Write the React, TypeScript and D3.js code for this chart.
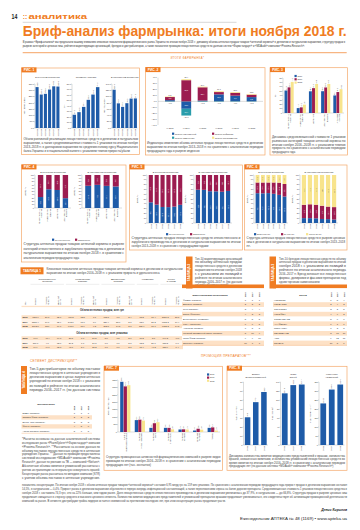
import React from 'react';
import * as d3 from 'd3';

const ORANGE = '#f07c22';
const BORDER = '#f4a86a';
const PEACH = '#fde1c6';
const PEACH2 = '#fff3e8';
const BLUE = '#1e5ba8';
const CRIMSON = '#9c1c50';
const YELLOW = '#f8e48c';
const TEAL = '#2a9dab';
const INK = '#333';
const SANS = "'Liberation Sans', Arial, sans-serif";

// ---------------- DATA ----------------
const fig1Years = ['11.2013', '11.2014', '11.2015', '11.2016', '11.2017', '11.2018'];
const fig1Titles = ['В денежном выражении', 'Стоимость упаковки', 'В натуральном выражении'];
const fig1YLabels = ['Млн долл. США', 'Грн', 'Млн упаковок'];
const fig1Money = [325.4, 266.2, 271.8, 305.9, 331.6, 329.8];
const fig1Price = [24.1, 28.8, 38.4, 51.2, 60.8, 74.3];
const fig1Units = [121.8, 78.4, 67.2, 78.9, 93.6, 94.1];
const fig1Max = [350, 80, 140];
const fig1Step = [50, 10, 20];

const fig2Years = ['XI 2013', 'XI 2014', 'XI 2015', 'XI 2016', 'XI 2017', 'XI 2018'];
const fig2Natural = [2.1, -12.6, 1.4, 11.8, 9.6, 7.2];
const fig2Inflation = [5.2, 35.8, 22.4, 3.9, 4.8, 4.1];
const fig2Substitution = [-0.6, -11.4, -0.8, -0.7, -0.6, -0.5];
const fig2Other = [0.9, 1.6, 1.1, 1.4, 1.3, 1.2];
const fig2Legend = ['Индекс натуральный', 'Индекс инфляции', 'Индекс замещения', 'Индекс ассортимента'];
const fig2Ticks = [-40, -30, -20, -10, 0, 10, 20, 30, 40];

const fig3Cats = ['Лекарственные|средства', 'Медицинские|изделия', 'Косметика', 'Диетические|добавки', 'Аптечная|корзина'];
const fig3Years = ['2016', '2017', '2018'];
const fig3S2016 = [51.4, 11.2, 49.6, 49.8, 40.1];
const fig3S2017 = [58.6, 12.9, 56.8, 58.4, 47.9];
const fig3S2018 = [71.2, 19.1, 66.4, 66.3, 54.5];

const fig4Cats = ['Лекарственные|средства', 'Медицинские|изделия', 'Косметика', 'Диетические|добавки'];
const fig4MoneyDom = [33.2, 56.8, 54.6, 29.7];
const fig4UnitsDom = [67.4, 70.2, 67.1, 65.3];
const domLegend = ['Отечественные', 'Зарубежные'];

const fig5Years = ['2013', '2014', '2015', '2016', '2017', '2018'];
const fig5MoneyDom = [43.1, 38.2, 33.4, 33.1, 34.2, 37.9];
const fig5UnitsDom = [69.4, 69.1, 66.2, 66.0, 65.1, 66.8];

const fig6MoneyHigh = [62.1, 61.8, 62.3, 60.9, 58.6, 55.2];
const fig6MoneyMid = [22.3, 22.6, 22.1, 23.5, 25.4, 26.1];
const fig6UnitsHigh = [10.2, 10.1, 9.8, 8.4, 8.1, 7.2];
const fig6UnitsMid = [27.8, 28.9, 28.3, 27.6, 26.1, 25.9];
const fig6Legend = ['Более 100 грн', '50–100 грн', 'Менее 50 грн'];
const subTitles = ['В денежном выражении', 'В натуральном выражении'];

const t1Groups = ['Лекарственные|средства', 'Медицинские|изделия', 'Диетические|добавки', 'Косметика', 'Рынок|в целом'];
const t1Spans = [3, 3, 3, 2, 2];
const t1Cols3 = ['Объем', 'Прирост/|убыль, %', 'Удельный|вес, %'];
const t1Cols2 = ['Объем', 'Прирост/|убыль, %'];
const t1Years = ['2016', '2017', '2018'];
const t1Sections = ['Объем аптечных продаж, млн грн', 'Объем аптечных продаж, млн упаковок'];
const t1Money = [
  ['4360,9', '29,8', '85,6', '486,3', '13,5', '7,1', '175,1', '7,1', '3,4', '65,2', '18,4', '5087,5', '26,1'],
  ['5216,4', '19,6', '85,9', '542,8', '11,6', '8,9', '229,4', '31,0', '3,8', '83,6', '28,2', '6072,2', '19,4'],
  ['5893,0', '13,0', '84,7', '645,6', '18,9', '9,3', '262,7', '14,5', '3,8', '151,9', '81,7', '6953,2', '14,5'],
];
const t1Units = [
  ['96,7', '−3,4', '64,8', '36,5', '8,7', '24,5', '5,6', '1,5', '3,7', '10,2', '5,8', '149,3', '−0,6'],
  ['100,6', '4,0', '63,6', '39,3', '7,7', '24,8', '6,0', '7,1', '3,8', '12,3', '20,6', '158,2', '6,0'],
  ['99,9', '−0,7', '62,8', '41,6', '5,9', '26,2', '6,0', '0,0', '3,8', '11,4', '−7,3', '158,9', '0,4'],
];

const rankYears = ['2018', '2017', '2016'];
const t2Names = ['Фармак (Украина)', 'Дарница (Украина)', 'Teva (Израиль)', 'Sanofi (Франция)', 'Berlin-Chemie (Германия)', 'KRKA (Словения)', 'Артериум (Украина)', 'Киевский витаминный завод (Украина)', 'Юрия-Фарм (Украина)', 'Здоровье (Украина)'];
const t2R2018 = [1, 2, 3, 4, 5, 6, 7, 8, 9, 10];
const t2R2017 = [1, 2, 4, 3, 5, 6, 8, 10, 9, 7];
const t2R2016 = [1, 2, 4, 3, 5, 5, 8, 9, 10, 7];
const t3Names = ['НИМЕСИЛ', 'КОРВАЛОЛ', 'СИНУПРЕТ', 'НУРОФЕН', 'ЭССЕНЦИАЛЕ', 'АНАФЕРОН', 'ЦИТРАМОН', 'РЕКИЦЕН РД', 'АЦЦ', 'ЛИНЕКС'];
const t3R2018 = [1, 2, 3, 4, 5, 6, 7, 8, 9, 10];
const t3R2017 = [5, 4, 2, 9, 6, 1, 3, 17, 12, 8];
const t3R2016 = [4, 3, 5, 2, 7, 1, 8, 16, 11, 6];
const t4Names = ['БаДМ (Украина)', 'Оптима-Фарм (Украина)', 'Вента. Лтд (Украина)', 'Фра-М (Украина)', 'Альба Украина (Украина)'];
const t4R2018 = [1, 2, 3, 4, 5];
const t4R2017 = [1, 2, 3, 5, 7];
const t4R2016 = [1, 2, 3, 6, 8];

const fig7Cats = ['Визиты|медпредставителей', 'Реклама|в спец. изданиях', 'Реклама|на ТВ', 'Реклама|в интернете', 'Реклама|на радио', 'Наружная|реклама', 'Прочие'];
const fig7S2016 = [3380, 800, 280, 280, 170, 100, 280];
const fig7S2017 = [3070, 830, 590, 280, 180, 220, 310];
const fig7S2018 = [3150, 770, 660, 180, 170, 160, 100];

const fig8Years = ['2016', '2017', '2018'];
const fig8Titles = ['Визиты|медпредставителей', 'Охват|врачей', 'Количество|упоминаний'];
const fig8YLabels = ['Тыс. визитов', 'Тыс. врачей', 'Тыс. упоминаний'];
const fig8Visits = [30.8, 47.6, 58.9];
const fig8Doctors = [114.8, 133.1, 134.4];
const fig8Mentions = [231.0, 308.0, 336.0];
const fig8Max = [70, 140, 350];
const fig8Step = [10, 20, 50];

// ---------------- TEXTS ----------------
const titleText = 'Бриф-анализ фармрынка: итоги ноября 2018 г.';
const introText = 'В рамках «Бриф-анализа» мы предлагаем вашему вниманию ключевые показатели фармацевтического рынка Украины по итогам ноября 2018 г.: динамику объема аптечных продаж товаров «аптечной корзины» в денежном и натуральном выражении, структуру продаж в разрезе категорий и ценовых ниш, рейтинги маркетирующих организаций, брендов и дистрибьюторов, а также показатели промоции лекарственных средств по данным систем «Фармстандарт» и «MDAudit» компании «Proxima Research».';
const fig1Caption = 'Объем розничной реализации лекарственных средств в денежном и натуральном выражении, а также средневзвешенная стоимость 1 упаковки по итогам ноября 2013–2018 гг. в долларовом выражении по среднемесячному курсу Национального банка Украины и в национальной валюте с указанием темпов прироста/убыли';
const fig2Caption = 'Индикаторы изменения объема аптечных продаж лекарственных средств в денежном выражении по итогам ноября 2013–2018 гг. по сравнению с аналогичным периодом предыдущего года в разрезе индексов';
const fig3Caption = 'Динамика средневзвешенной стоимости 1 упаковки различных категорий товаров аптечной корзины по итогам ноября 2016–2018 гг. с указанием темпов прироста по сравнению с аналогичным периодом предыдущего года';
const fig4Caption = 'Структура аптечных продаж товаров аптечной корзины в разрезе категорий отечественного и зарубежного производства в денежном и натуральном выражении по итогам ноября 2018 г. в сравнении с аналогичным периодом предыдущего года';
const fig5Caption = 'Структура аптечных продаж лекарственных средств отечественного и зарубежного производства в денежном и натуральном выражении по итогам ноября 2013–2018 гг. в сравнении с предыдущими годами';
const fig6Caption = 'Структура аптечных продаж лекарственных средств в разрезе ценовых ниш в денежном и натуральном выражении по итогам ноября 2013–2018 гг.';
const t1Caption = 'Ключевые показатели аптечных продаж товаров аптечной корзины в денежном и натуральном выражении по итогам ноября 2016–2018 гг. с указанием прироста и удельного веса';
const t2Caption = 'Топ-10 маркетирующих организаций по объему аптечных продаж лекарственных средств в денежном выражении по итогам ноября 2018 г. с указанием их позиций в рейтинге по итогам аналогичного периода 2016–2017 гг. (по данным системы «Фармстандарт»)';
const t3Caption = 'Топ-10 брендов лекарственных средств по объему аптечных продаж в денежном выражении по итогам ноября 2018 г. с указанием их позиций в рейтинге по итогам аналогичного периода 2016–2017 гг. Бренд включает все лекарственные формы, дозировки и фасовки препаратов под одним торговым наименованием';
const t4Caption = 'Топ-5 дистрибьюторов по объему поставок лекарственных средств в аптечные учреждения в денежном выражении в ценах закупки аптечных учреждений по итогам ноября 2018 г. с указанием их позиций в рейтинге по итогам аналогичного периода 2016–2017 гг. (по данным системы «Фармстандарт»)';
const fig7Caption = 'Структура промоционных активностей фармацевтических компаний в разрезе видов промоции по итогам ноября 2016–2018 гг. в сравнении с аналогичным периодом предыдущих лет (тыс. контактов)';
const fig8Caption = 'Динамика количества визитов медицинских представителей к врачам, количества врачей, охваченных визитами, и количества упоминаний лекарственных средств во время визитов по итогам ноября 2016–2018 гг. в сравнении с аналогичным периодом предыдущих лет (по данным системы «MDAudit» компании «Proxima Research»)';
const footText = '*Расчеты основаны на данных аналитической системы исследования рынка «PharmXplorer»/«Фармстандарт» компании «Proxima Research». **Рассчитано на основе данных по объему поставок лекарственных средств в аптечные учреждения Украины. ***Данные по промоции предоставлены системой исследования «MDAudit» компании «Proxima Research», данные по рекламе на ТВ — компанией «Nielsen». Абсолютные объемы визитов и упоминаний рассчитаны с учетом экстраполяции на генеральную совокупность врачей. Концентрация рынка рассчитана по методике компании (STR) с учетом объема поставок в аптечные учреждения. Абсолютный';
const bottomText = 'показатель концентрации. По итогам ноября 2018 г. объем аптечных продаж товаров «аптечной корзины» составил 6,95 млрд грн за 159 млн упаковок. По сравнению с аналогичным периодом предыдущего года прирост продаж в денежном выражении составил 14,5%, в натуральном — 0,4%. Прирост рынка в денежном выражении обусловлен в первую очередь инфляционной составляющей, а также переключением спроса на более дорогие препараты. Средневзвешенная стоимость 1 упаковки лекарственного средства в ноябре 2018 г. составила 74,3 грн, что на 22% больше, чем годом ранее. Доля лекарственных средств отечественного производства в денежном выражении увеличилась до 37,9%, в натуральном — до 66,8%. Структура продаж в разрезе ценовых ниш продолжает смещаться в сторону среднего и высокого ценового сегмента. Количество визитов медицинских представителей и упоминаний препаратов врачами продолжает увеличиваться, что свидетельствует об активизации промоционной деятельности компаний на рынке. В сегменте дистрибуции тройка лидеров остается неизменной на протяжении последних лет, при этом концентрация рынка продолжает расти.';

// ---------------- HELPERS ----------------
const fmt1 = (v: number) => d3.format('.1f')(v).replace('.', ',').replace('-', '−');
const fmt0 = (v: number) => d3.format('d')(v);

function Para({ x, y, w, text, n, size = 2.9, lh = 4, color = '#444' }: any) {
  const cpl = w / (size * 0.5);
  const words = text.split(' ');
  const lines: string[] = [];
  let cur = '';
  for (const wd of words) {
    const cand = cur ? cur + ' ' + wd : wd;
    if (cand.length > cpl && cur) { lines.push(cur); cur = wd; } else cur = cand;
  }
  if (cur) lines.push(cur);
  const shown = lines.slice(0, n);
  return (
    <g>
      {shown.map((l, i) => {
        const isLast = i === lines.length - 1;
        const tl = isLast ? Math.min(w, l.length * size * 0.5) : w;
        return (
          <text key={i} x={x} y={y + i * lh} fontSize={size} fill={color} fontFamily={SANS} textLength={tl} lengthAdjust="spacingAndGlyphs">{l}</text>
        );
      })}
    </g>
  );
}

function RotLabel({ x, y, text, size = 2.1, anchor = 'end', color = INK, weight = 'normal' }: any) {
  const lines = String(text).split('|');
  const l = size * 1.05;
  return (
    <g>
      {lines.map((ln: string, i: number) => (
        <text key={i} transform={`translate(${x + (i - (lines.length - 1) / 2) * l + size * 0.35},${y}) rotate(-90)`} fontSize={size} textAnchor={anchor} fill={color} fontFamily={SANS} fontWeight={weight}>{ln}</text>
      ))}
    </g>
  );
}

function Panel({ x, y, w, h, label }: any) {
  return (
    <g>
      <rect x={x} y={y} width={w} height={h} fill="#fff" stroke={BORDER} strokeWidth={0.7} />
      <rect x={x} y={y - 0.6} width={15} height={5} fill={ORANGE} />
      <text x={x + 7.5} y={y + 3.1} fontSize={3.3} fontWeight="bold" fill="#fff" textAnchor="middle" fontFamily={SANS}>{label}</text>
    </g>
  );
}

function MultiText({ x, y, text, size = 2.2, anchor = 'middle', color = INK, weight = 'normal', lh }: any) {
  const lines = String(text).split('|');
  const l = lh ?? size * 1.15;
  return (
    <g>
      {lines.map((ln: string, i: number) => (
        <text key={i} x={x} y={y + i * l} fontSize={size} textAnchor={anchor} fill={color} fontFamily={SANS} fontWeight={weight}>{ln}</text>
      ))}
    </g>
  );
}

function YAxis({ x0, x1, top, bottom, y, ticks, tickFmt, ylabel, ylx, size = 2.1 }: any) {
  return (
    <g>
      <line x1={x0} x2={x0} y1={top} y2={bottom} stroke="#777" strokeWidth={0.25} />
      <line x1={x0} x2={x1} y1={bottom} y2={bottom} stroke="#777" strokeWidth={0.25} />
      {ticks.map((t: number) => (
        <g key={t}>
          <line x1={x0 - 0.8} x2={x0} y1={y(t)} y2={y(t)} stroke="#777" strokeWidth={0.25} />
          <text x={x0 - 1.1} y={y(t) + size * 0.35} fontSize={size} textAnchor="end" fill={INK} fontFamily={SANS}>{tickFmt(t)}</text>
        </g>
      ))}
      {ylabel && (
        <text transform={`translate(${ylx},${(top + bottom) / 2}) rotate(-90)`} fontSize={2.3} textAnchor="middle" fill={INK} fontFamily={SANS}>{ylabel}</text>
      )}
    </g>
  );
}

function GroupBars({ x0, x1, top, bottom, cats, series, colors, max, step, tickFmt, valFmt, pad = 0.3, ylabel, ylx, valSize = 1.9, xlSize = 2.1 }: any) {
  const x = d3.scaleBand().domain(cats).range([x0, x1]).paddingInner(pad).paddingOuter(pad / 2);
  const sub = d3.scaleBand().domain(d3.range(series.length) as any).range([0, x.bandwidth()]).paddingInner(0.06);
  const y = d3.scaleLinear().domain([0, max]).range([bottom, top]);
  const ticks = d3.range(0, max + step / 2, step);
  return (
    <g>
      <YAxis x0={x0} x1={x1} top={top} bottom={bottom} y={y} ticks={ticks} tickFmt={tickFmt} ylabel={ylabel} ylx={ylx} />
      {cats.map((c: string, ci: number) => (
        <g key={c}>
          {series.map((s: number[], si: number) => {
            const bx = (x(c) as number) + (sub(si as any) as number);
            const bw = sub.bandwidth();
            const v = s[ci];
            return (
              <g key={si}>
                <rect x={bx} y={y(v)} width={bw} height={bottom - y(v)} fill={colors[si]} />
                <RotLabel x={bx + bw / 2} y={y(v) - 0.7} text={valFmt(v)} size={valSize} anchor="start" />
              </g>
            );
          })}
          <RotLabel x={(x(c) as number) + x.bandwidth() / 2} y={bottom + 1.1} text={c} size={xlSize} anchor="end" />
        </g>
      ))}
    </g>
  );
}

function StackBars({ x0, x1, top, bottom, cats, series, colors, pad = 0.35, title, ylabel, ylx, xlSize = 2.1, labelColors }: any) {
  const keys = series.map((_: any, k: number) => 'k' + k);
  const rows = cats.map((c: string, i: number) => {
    const o: any = { c };
    series.forEach((s: number[], k: number) => { o['k' + k] = s[i]; });
    return o;
  });
  const st = d3.stack().keys(keys)(rows);
  const x = d3.scaleBand().domain(cats).range([x0, x1]).padding(pad);
  const y = d3.scaleLinear().domain([0, 100]).range([bottom, top]);
  const ticks = d3.range(0, 101, 10);
  return (
    <g>
      <text x={(x0 + x1) / 2} y={top - 2.4} fontSize={2.3} textAnchor="middle" fill={INK} fontFamily={SANS}>{title}</text>
      <YAxis x0={x0} x1={x1} top={top} bottom={bottom} y={y} ticks={ticks} tickFmt={(t: number) => String(t)} ylabel={ylabel} ylx={ylx} size={1.9} />
      {st.map((layer: any, k: number) => (
        <g key={k}>
          {layer.map((d: any, i: number) => {
            const bx = x(cats[i]) as number;
            const bw = x.bandwidth();
            const y0 = y(d[1]);
            const h = y(d[0]) - y(d[1]);
            const v = d[1] - d[0];
            return (
              <g key={i}>
                <rect x={bx} y={y0} width={bw} height={h} fill={colors[k]} />
                {h > 5 && (
                  <RotLabel x={bx + bw / 2} y={y0 + h / 2} text={fmt1(v)} size={1.7} anchor="middle" color={labelColors ? labelColors[k] : '#fff'} />
                )}
              </g>
            );
          })}
        </g>
      ))}
      {cats.map((c: string) => (
        <RotLabel key={c} x={(x(c) as number) + x.bandwidth() / 2} y={bottom + 1.1} text={c} size={xlSize} anchor="end" />
      ))}
    </g>
  );
}

function Legend({ items, colors, xs, ys, size = 2.2 }: any) {
  return (
    <g>
      {items.map((it: string, i: number) => (
        <g key={it}>
          <rect x={xs[i]} y={ys[i] - 1.9} width={2.2} height={2.2} fill={colors[i]} />
          <text x={xs[i] + 3} y={ys[i]} fontSize={size} fill={INK} fontFamily={SANS}>{it}</text>
        </g>
      ))}
    </g>
  );
}

function VLabel({ x, y, w, h, label }: any) {
  return (
    <g>
      <rect x={x} y={y} width={w} height={h} fill={ORANGE} />
      <text transform={`translate(${x + w / 2 + 1.1},${y + h / 2}) rotate(-90)`} fontSize={3.1} fontWeight="bold" fill="#fff" textAnchor="middle" fontFamily={SANS}>{label}</text>
    </g>
  );
}

// ---------------- SECTIONS ----------------
function Header() {
  return (
    <g>
      <text x={11.5} y={19.3} fontSize={6.6} fontWeight="bold" fill="#222" fontFamily={SANS} textLength={5.8} lengthAdjust="spacingAndGlyphs">14</text>
      <text x={22.7} y={19.3} fontSize={6.6} fontWeight="bold" fill={ORANGE} fontFamily={SANS}>::</text>
      <text x={28.5} y={19.3} fontSize={6.6} fontWeight="bold" fill={ORANGE} fontFamily={SANS} textLength={58.5} lengthAdjust="spacingAndGlyphs">аналитика</text>
      <line x1={22.7} x2={236.5} y1={22.3} y2={22.3} stroke="#9a9a9a" strokeWidth={0.4} />
      <text x={22.7} y={36.3} fontSize={14.2} fontWeight="bold" fill={ORANGE} fontFamily={SANS} textLength={324} lengthAdjust="spacingAndGlyphs">{titleText}</text>
      <Para x={22.7} y={43.2} w={322.5} text={introText} n={2} size={2.6} lh={3.4} color="#333" />
      <line x1={22.7} x2={346.7} y1={52.7} y2={52.7} stroke={ORANGE} strokeWidth={0.7} />
      <text x={187.5} y={59} fontSize={2.7} fill={ORANGE} textAnchor="middle" fontFamily={SANS} letterSpacing={0.35}>ИТОГИ ФАРМРЫНКА*</text>
    </g>
  );
}

function Fig1() {
  const defs = [
    { data: fig1Money, max: fig1Max[0], step: fig1Step[0], x0: 35, x1: 60, ylx: 24.5 },
    { data: fig1Price, max: fig1Max[1], step: fig1Step[1], x0: 72, x1: 100, ylx: 64.5 },
    { data: fig1Units, max: fig1Max[2], step: fig1Step[2], x0: 112, x1: 137.5, ylx: 104.5 },
  ];
  return (
    <g>
      <Panel x={21.5} y={68} w={118} h={86.5} label="РИС. 1" />
      {defs.map((d, i) => (
        <g key={i}>
          <text x={(d.x0 + d.x1) / 2} y={77.7} fontSize={2.2} textAnchor="middle" fill={INK} fontFamily={SANS}>{fig1Titles[i]}</text>
          <GroupBars x0={d.x0} x1={d.x1} top={84} bottom={128} cats={fig1Years} series={[d.data]} colors={[BLUE]} max={d.max} step={d.step} tickFmt={fmt1} valFmt={fmt1} pad={0.22} ylabel={fig1YLabels[i]} ylx={d.ylx} />
        </g>
      ))}
      <Para x={23.5} y={139.5} w={114.5} text={fig1Caption} n={4} size={3} lh={4} />
    </g>
  );
}

function Fig2() {
  const keys = ['nat', 'inf', 'sub', 'oth'];
  const colors = [BLUE, CRIMSON, TEAL, YELLOW];
  const rows = fig2Years.map((yr, i) => ({ yr, nat: fig2Natural[i], inf: fig2Inflation[i], sub: fig2Substitution[i], oth: fig2Other[i] }));
  const st = d3.stack().keys(keys).offset(d3.stackOffsetDiverging)(rows as any);
  const x = d3.scaleBand().domain(fig2Years).range([158.5, 263]).padding(0.4);
  const y = d3.scaleLinear().domain([-40, 40]).range([125, 77.7]);
  return (
    <g>
      <Panel x={145.5} y={67.7} w={119.5} h={87.3} label="РИС. 2" />
      {fig2Ticks.map((t) => (
        <g key={t}>
          <text x={156.7} y={y(t) + 0.75} fontSize={2.1} textAnchor="end" fill={INK} fontFamily={SANS}>{fmt1(t)}</text>
        </g>
      ))}
      <line x1={158} x2={158} y1={77.7} y2={125} stroke="#777" strokeWidth={0.25} />
      {st.map((layer: any, k: number) => (
        <g key={k}>
          {layer.map((d: any, i: number) => {
            const bx = x(fig2Years[i]) as number;
            const y0 = y(Math.max(d[0], d[1]));
            const h = Math.abs(y(d[0]) - y(d[1]));
            const v = d[1] - d[0];
            return (
              <g key={i}>
                <rect x={bx} y={y0} width={x.bandwidth()} height={h} fill={colors[k]} />
                {h > 3 && (
                  <text x={bx + x.bandwidth() / 2} y={y0 + h / 2 + 0.6} fontSize={1.8} textAnchor="middle" fill="#fff" fontFamily={SANS}>{fmt1(v)}</text>
                )}
              </g>
            );
          })}
        </g>
      ))}
      <line x1={158} x2={263} y1={y(0)} y2={y(0)} stroke="#777" strokeWidth={0.25} />
      {fig2Years.map((yr, i) => {
        const vals = [fig2Natural[i], fig2Inflation[i], fig2Substitution[i], fig2Other[i]];
        const pos = d3.sum(vals.filter((v) => v > 0));
        const neg = d3.sum(vals.filter((v) => v < 0));
        const cx = (x(yr) as number) + x.bandwidth() / 2;
        return (
          <g key={yr}>
            <text x={cx} y={y(pos) - 0.8} fontSize={1.9} textAnchor="middle" fill={INK} fontFamily={SANS}>{fmt1(pos)}</text>
            <text x={cx} y={y(neg) + 2.2} fontSize={1.9} textAnchor="middle" fill={INK} fontFamily={SANS}>{fmt1(neg)}</text>
            <text x={cx} y={128.5} fontSize={2.1} textAnchor="middle" fill={INK} fontFamily={SANS}>{yr}</text>
          </g>
        );
      })}
      <Legend items={fig2Legend} colors={colors} xs={[172, 212, 172, 212]} ys={[134.5, 134.5, 138.5, 138.5]} />
      <Para x={147} y={144.2} w={116} text={fig2Caption} n={3} size={3} lh={4} />
    </g>
  );
}

function Fig3() {
  return (
    <g>
      <Panel x={270} y={67.7} w={77.5} h={87.3} label="РИС. 3" />
      <Legend items={fig3Years} colors={[BLUE, CRIMSON, YELLOW]} xs={[294.5, 294.5, 294.5]} ys={[76.8, 80.1, 83.4]} size={2.1} />
      <GroupBars x0={283} x1={344} top={78} bottom={113} cats={fig3Cats} series={[fig3S2016, fig3S2017, fig3S2018]} colors={[BLUE, CRIMSON, YELLOW]} max={80} step={10} tickFmt={fmt0} valFmt={fmt1} pad={0.25} ylabel="Грн" ylx={275.5} valSize={1.7} />
      <Para x={272} y={138} w={73.5} text={fig3Caption} n={5} size={2.9} lh={3.8} />
    </g>
  );
}

function Fig4() {
  return (
    <g>
      <Panel x={21.5} y={165} w={104.5} h={97} label="РИС. 4" />
      <StackBars x0={35} x1={71} top={175} bottom={208} cats={fig4Cats} series={[fig4MoneyDom, fig4MoneyDom.map((v) => 100 - v)]} colors={[BLUE, CRIMSON]} title={subTitles[0]} ylabel="Доля, %" ylx={25.5} />
      <StackBars x0={82} x1={122} top={175} bottom={208} cats={fig4Cats} series={[fig4UnitsDom, fig4UnitsDom.map((v) => 100 - v)]} colors={[BLUE, CRIMSON]} title={subTitles[1]} ylabel="Доля, %" ylx={74.5} />
      <Legend items={domLegend} colors={[BLUE, CRIMSON]} xs={[52, 75]} ys={[240.5, 240.5]} size={2.1} />
      <Para x={23.5} y={245} w={100.5} text={fig4Caption} n={4} size={3} lh={4.5} />
    </g>
  );
}

function Fig5() {
  return (
    <g>
      <Panel x={129.5} y={165} w={113} h={85} label="РИС. 5" />
      <StackBars x0={147} x1={184} top={175} bottom={223} cats={fig5Years} series={[fig5MoneyDom, fig5MoneyDom.map((v) => 100 - v)]} colors={[BLUE, CRIMSON]} title={subTitles[0]} ylabel="Доля, %" ylx={137.5} pad={0.3} />
      <StackBars x0={194} x1={232} top={175} bottom={223} cats={fig5Years} series={[fig5UnitsDom, fig5UnitsDom.map((v) => 100 - v)]} colors={[BLUE, CRIMSON]} title={subTitles[1]} ylabel="Доля, %" ylx={185.5} pad={0.3} />
      <Legend items={domLegend} colors={[BLUE, CRIMSON]} xs={[166, 190]} ys={[235, 235]} size={2.1} />
      <Para x={131.5} y={239.2} w={109} text={fig5Caption} n={3} size={2.9} lh={3.9} />
    </g>
  );
}

function Fig6() {
  const low = (h: number[], m: number[]) => h.map((v, i) => +(100 - v - m[i]).toFixed(1));
  return (
    <g>
      <Panel x={244.5} y={165} w={102.5} h={85} label="РИС. 6" />
      <StackBars x0={254} x1={288} top={175} bottom={223} cats={fig5Years} series={[fig6MoneyHigh, fig6MoneyMid, low(fig6MoneyHigh, fig6MoneyMid)]} colors={[BLUE, CRIMSON, YELLOW]} labelColors={['#fff', '#fff', '#555']} title={subTitles[0]} ylabel="Доля, %" ylx={247.5} pad={0.3} />
      <StackBars x0={300} x1={338} top={175} bottom={223} cats={fig5Years} series={[fig6UnitsHigh, fig6UnitsMid, low(fig6UnitsHigh, fig6UnitsMid)]} colors={[BLUE, CRIMSON, YELLOW]} labelColors={['#fff', '#fff', '#555']} title={subTitles[1]} ylabel="Доля, %" ylx={292.5} pad={0.3} />
      <Legend items={fig6Legend} colors={[BLUE, CRIMSON, YELLOW]} xs={[254, 281, 306]} ys={[235, 235, 235]} size={2.0} />
      <Para x={246.5} y={239.2} w={98.5} text={fig6Caption} n={3} size={2.9} lh={3.9} />
    </g>
  );
}

function Table1() {
  const nCols = d3.sum(t1Spans);
  const col = d3.scaleBand().domain(d3.range(nCols) as any).range([29.5, 183]);
  const colNames: string[] = [];
  t1Spans.forEach((s) => (s === 3 ? t1Cols3 : t1Cols2).forEach((c) => colNames.push(c)));
  let start = 0;
  const groups = t1Spans.map((s, gi) => {
    const a = col(start as any) as number;
    const b = (col((start + s - 1) as any) as number) + col.bandwidth();
    start += s;
    return { name: t1Groups[gi], a, b };
  });
  const cx = (i: number) => (col(i as any) as number) + col.bandwidth() / 2;
  const sections = [
    { title: t1Sections[0], yc: 310.2, rows: t1Money, ys: [317.3, 321.7, 326.1] },
    { title: t1Sections[1], yc: 333.3, rows: t1Units, ys: [338.3, 342.7, 347.1] },
  ];
  return (
    <g fontFamily={SANS}>
      <rect x={20.5} y={267.3} width={23} height={7} fill={ORANGE} />
      <text x={32} y={272} fontSize={3.2} fontWeight="bold" fill="#fff" textAnchor="middle">ТАБЛИЦА 1</text>
      <Para x={46.5} y={269.8} w={136} text={t1Caption} n={2} size={2.9} lh={3.8} />
      {groups.map((g) => (
        <g key={g.name}>
          <MultiText x={(g.a + g.b) / 2} y={279.5} text={g.name} size={2.4} />
          <line x1={g.a + 1} x2={g.b - 1} y1={284.3} y2={284.3} stroke="#bbb" strokeWidth={0.25} />
        </g>
      ))}
      <RotLabel x={25} y={305} text="Год" size={2.2} anchor="start" />
      {colNames.map((c, i) => (
        <RotLabel key={i} x={cx(i)} y={305} text={c} size={2.0} anchor="start" />
      ))}
      <rect x={21.5} y={305.8} width={161.5} height={1.3} fill={PEACH} />
      {sections.map((s, si) => (
        <g key={si}>
          <text x={102} y={s.yc + 0.9} fontSize={2.6} fontWeight="bold" textAnchor="middle" fill={INK}>{s.title}</text>
          {s.rows.map((r, ri) => (
            <g key={ri}>
              <rect x={21.5} y={s.ys[ri] - 2.1} width={161.5} height={4.2} fill={ri % 2 === 0 ? PEACH : PEACH2} />
              <text x={22.5} y={s.ys[ri] + 0.8} fontSize={2.3} fill={INK} fontWeight="bold">{t1Years[ri]}</text>
              {r.map((v, vi) => (
                <text key={vi} x={cx(vi)} y={s.ys[ri] + 0.8} fontSize={2.2} fill={INK} textAnchor="middle">{v}</text>
              ))}
            </g>
          ))}
        </g>
      ))}
    </g>
  );
}

function RankTable({ x, x1, names, ranks, colX, header, headerX, rowY0, rowH, nameSize = 2.3, headerY, strip }: any) {
  return (
    <g fontFamily={SANS}>
      {strip && <rect x={x} y={strip} width={x1 - x} height={3.6} fill={ORANGE} />}
      <text x={headerX} y={headerY} fontSize={2.4} fontWeight="bold" textAnchor="middle" fill={INK}>{header}</text>
      {rankYears.map((yr, i) => (
        <RotLabel key={yr} x={colX[i]} y={rowY0 - rowH / 2 - 0.4} text={yr} size={2.1} anchor="start" weight="bold" />
      ))}
      {names.map((n: string, i: number) => {
        const yc = rowY0 + i * rowH;
        return (
          <g key={n}>
            <rect x={x} y={yc - rowH / 2} width={x1 - x} height={rowH} fill={i % 2 === 1 ? PEACH : '#fff'} />
            <text x={x + 1} y={yc + 0.8} fontSize={nameSize} fill={INK}>{n}</text>
            {ranks.map((r: number[], k: number) => (
              <text key={k} x={colX[k]} y={yc + 0.8} fontSize={2.3} textAnchor="middle" fill={INK}>{r[i]}</text>
            ))}
          </g>
        );
      })}
      <line x1={x} x2={x1} y1={rowY0 + (names.length - 0.5) * rowH} y2={rowY0 + (names.length - 0.5) * rowH} stroke={BORDER} strokeWidth={0.4} />
    </g>
  );
}

function Tables23() {
  return (
    <g>
      <VLabel x={186} y={256.5} w={6.5} h={32} label="ТАБЛИЦА 2" />
      <Para x={195} y={259.5} w={47} text={t2Caption} n={8} size={2.9} lh={3.85} />
      <VLabel x={269.5} y={256.5} w={6.5} h={32} label="ТАБЛИЦА 3" />
      <Para x={279} y={259.5} w={67} text={t3Caption} n={7} size={2.9} lh={3.85} />
      <RankTable x={182} x1={264} strip={284.5} names={t2Names} ranks={[t2R2018, t2R2017, t2R2016]} colX={[245.5, 252.5, 259.5]} header="Маркетирующая организация" headerX={210} headerY={296} rowY0={299.8} rowH={4.8} nameSize={2.2} />
      <RankTable x={273} x1={347} strip={284.5} names={t3Names} ranks={[t3R2018, t3R2017, t3R2016]} colX={[331, 337.5, 344]} header="Бренд" headerX={303} headerY={296} rowY0={299.8} rowH={4.8} />
    </g>
  );
}

function Distribution() {
  return (
    <g fontFamily={SANS}>
      <text x={30} y={361.5} fontSize={3.1} fill={ORANGE} letterSpacing={0.3}>СЕГМЕНТ ДИСТРИБУЦИИ**</text>
      <VLabel x={21} y={366} w={6} h={28} label="ТАБЛИЦА 4" />
      <Para x={29.5} y={369.5} w={70.5} text={t4Caption} n={6} size={2.9} lh={4.3} />
      <RankTable x={21.5} x1={92} names={t4Names} ranks={[t4R2018, t4R2017, t4R2016]} colX={[74.5, 81.5, 88.5]} header="Дистрибьютор" headerX={46} headerY={404.5} rowY0={413} rowH={4.5} />
      <Para x={22} y={440} w={78} text={footText} n={11} size={2.7} lh={3.85} />
    </g>
  );
}

function Fig7() {
  return (
    <g>
      <text x={226} y={357.3} fontSize={3.1} fill={ORANGE} textAnchor="middle" fontFamily={SANS} letterSpacing={0.3}>ПРОМОЦИЯ ПРЕПАРАТОВ***</text>
      <Panel x={104} y={366.3} w={118.5} h={104} label="РИС. 7" />
      <Legend items={fig3Years} colors={[BLUE, CRIMSON, YELLOW]} xs={[207, 207, 207]} ys={[375.3, 378.4, 381.5]} size={2.0} />
      <GroupBars x0={118} x1={220} top={380} bottom={432} cats={fig7Cats} series={[fig7S2016, fig7S2017, fig7S2018]} colors={[BLUE, CRIMSON, YELLOW]} max={3500} step={500} tickFmt={fmt0} valFmt={fmt0} pad={0.3} ylabel="Количество, тыс." ylx={108.5} valSize={1.7} xlSize={2.0} />
      <Para x={106} y={458} w={114.5} text={fig7Caption} n={3} size={2.9} lh={4} />
    </g>
  );
}

function Fig8() {
  const defs = [
    { data: fig8Visits, x0: 243.5, x1: 268, ylx: 236.5 },
    { data: fig8Doctors, x0: 280.5, x1: 306, ylx: 272.5 },
    { data: fig8Mentions, x0: 319, x1: 344.5, ylx: 310.5 },
  ];
  return (
    <g>
      <Panel x={227} y={366.3} w={120} h={104} label="РИС. 8" />
      {defs.map((d, i) => (
        <g key={i}>
          <MultiText x={(d.x0 + d.x1) / 2} y={375} text={fig8Titles[i]} size={2.2} />
          <GroupBars x0={d.x0} x1={d.x1} top={382} bottom={445} cats={fig8Years} series={[d.data]} colors={[BLUE]} max={fig8Max[i]} step={fig8Step[i]} tickFmt={fmt0} valFmt={fmt1} pad={0.28} ylabel={fig8YLabels[i]} ylx={d.ylx} />
        </g>
      ))}
      <Para x={229} y={456.5} w={116} text={fig8Caption} n={4} size={2.9} lh={3.6} />
    </g>
  );
}

function Footer() {
  return (
    <g fontFamily={SANS}>
      <Para x={22} y={486} w={325} text={bottomText} n={5} size={2.7} lh={3.9} />
      <text x={347} y={510.5} fontSize={3.4} fontStyle="italic" fontWeight="bold" textAnchor="end" fill="#222">Денис Кирилов</text>
      <text x={347} y={520} fontSize={3.3} textAnchor="end" fill="#222" textLength={107} lengthAdjust="spacingAndGlyphs">Еженедельник АПТЕКА № 48 (1169) • www.apteka.ua</text>
    </g>
  );
}

export default function App() {
  return (
    <svg width={360} height={530} viewBox="0 0 360 530" style={{ position: 'absolute', left: 0, top: 0, background: '#fff' }} fontFamily={SANS}>
      <rect width={360} height={530} fill="#fff" />
      <Header />
      <Fig1 />
      <Fig2 />
      <Fig3 />
      <Fig4 />
      <Fig5 />
      <Fig6 />
      <Table1 />
      <Tables23 />
      <Distribution />
      <Fig7 />
      <Fig8 />
      <Footer />
    </svg>
  );
}
